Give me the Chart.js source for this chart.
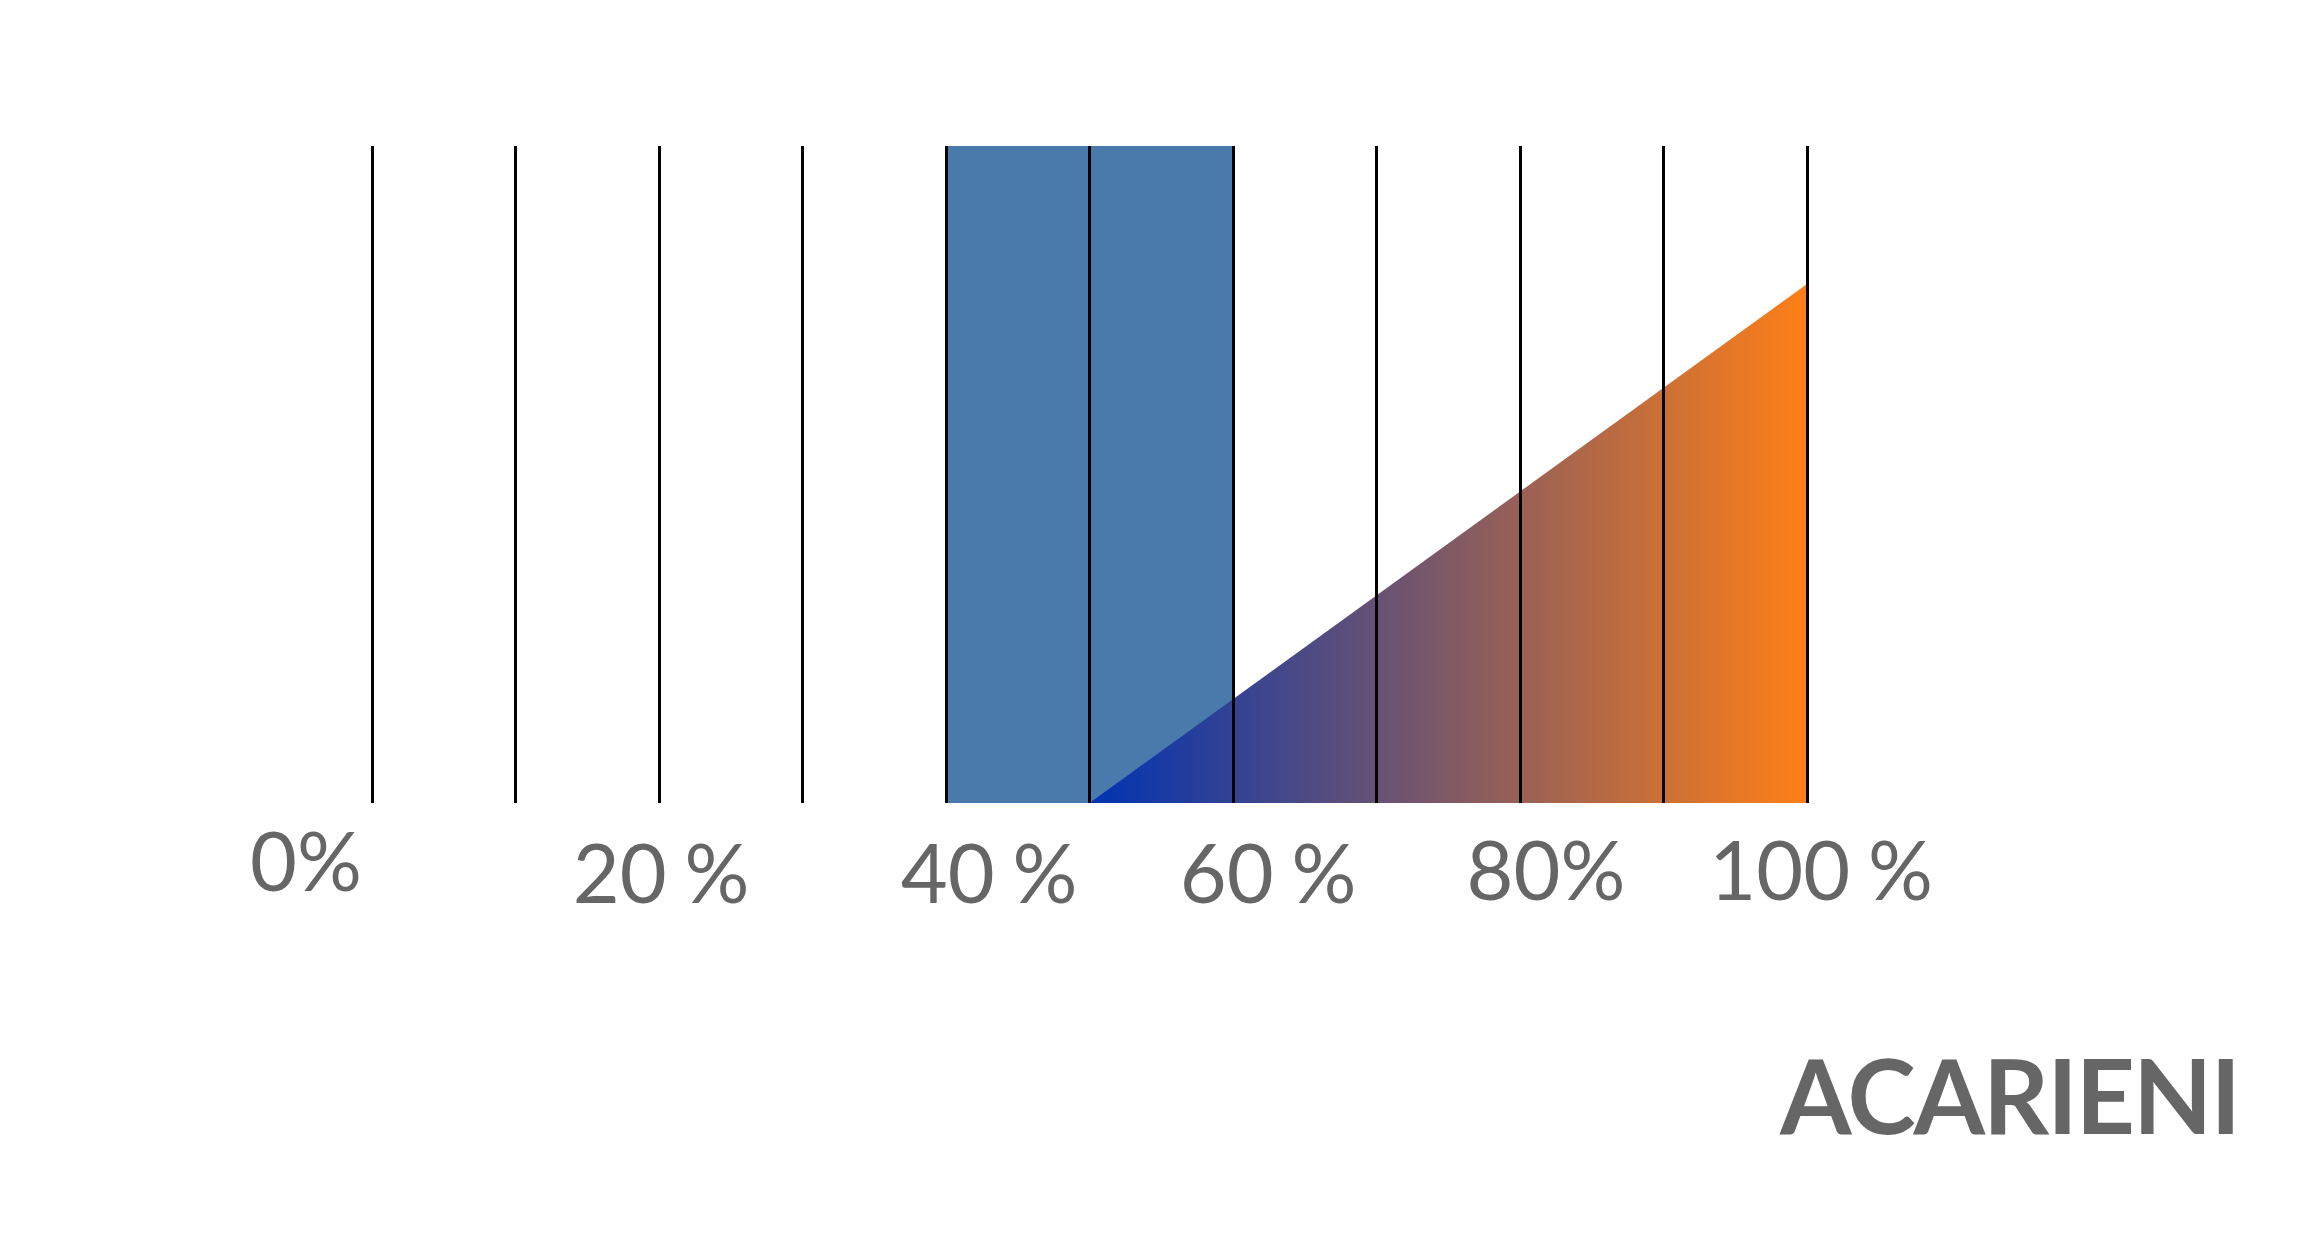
<!DOCTYPE html>
<html>
<head>
<meta charset="utf-8">
<script src="https://cdn.jsdelivr.net/npm/chart.js@4.4.1/dist/chart.umd.min.js"></script>
<style>
  html, body { margin: 0; padding: 0; background: #fff; }
  body { width: 2318px; height: 1248px; overflow: hidden; }
  canvas { display: block; }
</style>
</head>
<body>
<canvas id="chart" width="2318" height="1248"></canvas>
<script>
// percentage ticks and their labels
const tickValues = [0, 20, 40, 60, 80, 100];
const tickLabels = ["0%", "20 %", "40 %", "60 %", "80%", "100 %"];
// blue block: from 40% to 60%, full height
const blockX = [40, 60];
const blockY = [100, 100];
// gradient wedge: rises from 50% to 100%
const wedgeX = [50, 100];
const wedgeY = [0, 79];
const title = "ACARIENI";

// label nudges (px) so they sit where the original designer put them
const labelDx = [-66, 2, 43, 35, 26, 14];
const labelDy = [88, 100, 100, 100, 97, 97];

const pts = (xs, ys) => xs.map((x, i) => ({ x: x, y: ys[i] }));

const labelPlugin = {
    id: "pctLabels",
    afterDraw(chart) {
        const ctx = chart.ctx;
        const xs = chart.scales.x;
        const bottom = chart.chartArea.bottom;
        ctx.save();
        ctx.fillStyle = "#666666";
        ctx.font = "400 81px Lato";
        ctx.textAlign = "center";
        ctx.textBaseline = "alphabetic";
        if ("wordSpacing" in ctx) ctx.wordSpacing = "-3px";
        tickValues.forEach((v, i) => {
            ctx.fillText(tickLabels[i], xs.getPixelForValue(v) + labelDx[i], bottom + labelDy[i]);
        });
        if ("wordSpacing" in ctx) ctx.wordSpacing = "0px";
        // title bottom right
        ctx.font = "700 103px Lato";
        ctx.textAlign = "right";
        if ("letterSpacing" in ctx) ctx.letterSpacing = "-2px";
        ctx.fillText(title, chart.width - 79, 1134);
        ctx.restore();
    }
};

const ctx = document.getElementById("chart").getContext("2d");
new Chart(ctx, {
    type: "line",
    data: {
        datasets: [
            {
                label: "wedge",
                data: pts(wedgeX, wedgeY),
                order: 0,
                borderWidth: 0,
                pointRadius: 0,
                fill: "origin",
                backgroundColor: (c) => {
                    const ch = c.chart;
                    if (!ch.chartArea) return "#ff7f17";
                    const x = ch.scales.x;
                    const g = ch.ctx.createLinearGradient(
                        x.getPixelForValue(wedgeX[0]), 0,
                        x.getPixelForValue(wedgeX[1]), 0);
                    g.addColorStop(0, "#0033b3");
                    g.addColorStop(1, "#ff7f17");
                    return g;
                }
            },
            {
                label: "block",
                data: pts(blockX, blockY),
                order: 1,
                borderWidth: 0,
                pointRadius: 0,
                fill: "origin",
                backgroundColor: "#4a7aac"
            }
        ]
    },
    options: {
        responsive: false,
        animation: false,
        devicePixelRatio: 1,
        layout: {
            padding: { left: 372, right: 511, top: 146, bottom: 445 }
        },
        plugins: {
            legend: { display: false },
            tooltip: { enabled: false }
        },
        scales: {
            x: {
                type: "linear",
                min: 0,
                max: 100,
                ticks: { display: false, stepSize: 10 },
                grid: { color: "#000000", lineWidth: 3, drawTicks: false, z: 1 },
                border: { display: false }
            },
            y: {
                min: 0,
                max: 100,
                display: false
            }
        }
    },
    plugins: [labelPlugin]
});
</script>
</body>
</html>
